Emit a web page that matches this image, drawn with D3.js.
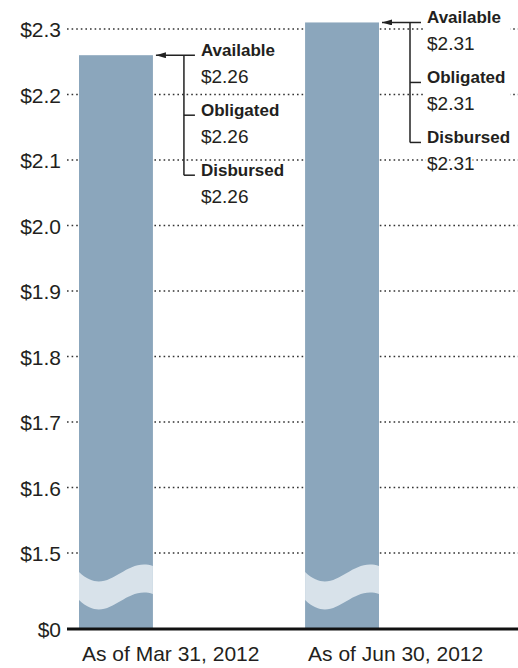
<!DOCTYPE html>
<html>
<head>
<meta charset="utf-8">
<script src="https://cdn.jsdelivr.net/npm/d3@7"></script>
<style>
  body { margin: 0; background: #fff; }
  svg { display: block; font-family: "Liberation Sans", Arial, sans-serif; }
</style>
</head>
<body>
<div id="chart"></div>
<script>
// datos
var categories = ["As of Mar 31, 2012", "As of Jun 30, 2012"];
var totals = [2.26, 2.31];
var statusNames = ["Available", "Obligated", "Disbursed"];
var available = [2.26, 2.31];
var obligated = [2.26, 2.31];
var disbursed = [2.26, 2.31];
var tickValues = [0, 1.5, 1.6, 1.7, 1.8, 1.9, 2.0, 2.1, 2.2, 2.3];
var tickLabels = ["$0", "$1.5", "$1.6", "$1.7", "$1.8", "$1.9", "$2.0", "$2.1", "$2.2", "$2.3"];
var breakValue = 0.85;

var ancho = 518, alto = 668;
var textColor = "#231f20";

var svg = d3.select("#chart").append("svg")
  .attr("width", ancho)
  .attr("height", alto);

// escala y con corte entre 0 y 1.5
var y = d3.scaleLinear()
  .domain([0, 1.5, 2.3])
  .range([629, 553, 29]);

var x = d3.scaleBand()
  .domain(categories)
  .range([79, 379])
  .paddingInner(0.673)
  .paddingOuter(0);

// lineas punteadas
svg.append("g")
  .selectAll("line")
  .data(tickValues.filter(function(d){ return d > 0; }))
  .enter()
  .append("line")
  .attr("x1", 67)
  .attr("x2", ancho)
  .attr("y1", function(d){ return y(d); })
  .attr("y2", function(d){ return y(d); })
  .attr("stroke", "#333")
  .attr("stroke-width", 1.6)
  .attr("stroke-dasharray", "1.6,3");

// eje y
var eje = svg.append("g")
  .attr("transform", "translate(61,0)")
  .call(d3.axisLeft(y).tickValues(tickValues)
    .tickFormat(function(d, i){ return tickLabels[i]; })
    .tickSize(0).tickPadding(0));
eje.select(".domain").remove();
eje.selectAll("text")
  .attr("font-family", "'Liberation Sans', Arial, sans-serif")
  .attr("font-size", "21px")
  .attr("fill", textColor)
  .attr("dy", "0.36em");

// barras
svg.append("g")
  .selectAll("rect")
  .data(totals)
  .enter()
  .append("rect")
  .attr("x", function(d, i){ return x(categories[i]); })
  .attr("y", function(d){ return y(d); })
  .attr("width", x.bandwidth())
  .attr("height", function(d){ return y(0) - y(d); })
  .attr("fill", "#8ba6bc");

// corte ondulado
var c = y(breakValue);
svg.append("g")
  .selectAll("path")
  .data(categories)
  .enter()
  .append("path")
  .attr("d", function(d){
    var x0 = x(d), w = x.bandwidth(), x1 = x0 + w, h = 28;
    var top = [[x0, c - 14], [x0 + 0.4 * w, c + 14], [x0 + 0.6 * w, c - 30], [x1, c - 20]];
    return "M" + top[0] + "C" + top[1] + " " + top[2] + " " + top[3] +
      "L" + x1 + "," + (c - 20 + h) +
      "C" + (x0 + 0.6 * w) + "," + (c - 30 + h) + " " + (x0 + 0.4 * w) + "," + (c + 14 + h) + " " + x0 + "," + (c - 14 + h) + "Z";
  })
  .attr("fill", "#d8e2ea");

// linea base
svg.append("line")
  .attr("x1", 67)
  .attr("x2", ancho)
  .attr("y1", y(0))
  .attr("y2", y(0))
  .attr("stroke", "#111")
  .attr("stroke-width", 3);

// etiquetas eje x (alineadas al borde izquierdo de la barra)
svg.append("g")
  .selectAll("text")
  .data(categories)
  .enter()
  .append("text")
  .text(function(d){ return d; })
  .attr("x", function(d){ return x(d) + 3; })
  .attr("y", 661)
  .attr("font-size", "21px")
  .attr("fill", textColor);

// anotaciones
svg.append("defs").append("marker")
  .attr("id", "flecha")
  .attr("viewBox", "0 0 10 6")
  .attr("refX", 0)
  .attr("refY", 3)
  .attr("markerWidth", 10)
  .attr("markerHeight", 6)
  .attr("markerUnits", "userSpaceOnUse")
  .attr("orient", "auto")
  .append("path")
  .attr("d", "M0,3L10,0L10,6Z")
  .attr("fill", "#222");

categories.forEach(function(cat, i){
  var right = x(cat) + x.bandwidth();
  var y0 = y(available[i]);
  var vals = [available[i], obligated[i], disbursed[i]];
  var g = svg.append("g");
  var bx = right + 31, lx = right + 48;

  if (i === categories.length - 1) {
    g.append("rect")
      .attr("x", lx - 3).attr("y", y0 - 17)
      .attr("width", 86).attr("height", 152)
      .attr("fill", "#fff");
  }

  g.append("line")
    .attr("x1", right + 3).attr("x2", right + 42)
    .attr("y1", y0).attr("y2", y0)
    .attr("stroke", "#222").attr("stroke-width", 1.5)
    .attr("marker-start", "url(#flecha)");
  g.append("line")
    .attr("x1", bx).attr("x2", bx)
    .attr("y1", y0).attr("y2", y0 + 120)
    .attr("stroke", "#222").attr("stroke-width", 1.5);
  [60, 120].forEach(function(off){
    g.append("line")
      .attr("x1", bx).attr("x2", right + 42)
      .attr("y1", y0 + off).attr("y2", y0 + off)
      .attr("stroke", "#222").attr("stroke-width", 1.5);
  });

  statusNames.forEach(function(name, k){
    g.append("text")
      .text(name)
      .attr("x", lx)
      .attr("y", y0 + k * 60 + 1)
      .attr("font-size", "17px")
      .attr("font-weight", "bold")
      .attr("fill", textColor)
      .attr("stroke", "#fff").attr("stroke-width", 4)
      .attr("paint-order", "stroke");
    g.append("text")
      .text("$" + vals[k].toFixed(2))
      .attr("x", lx)
      .attr("y", y0 + k * 60 + 28)
      .attr("font-size", "19px")
      .attr("fill", textColor)
      .attr("stroke", "#fff").attr("stroke-width", 4)
      .attr("paint-order", "stroke");
  });
});
</script>
</body>
</html>
